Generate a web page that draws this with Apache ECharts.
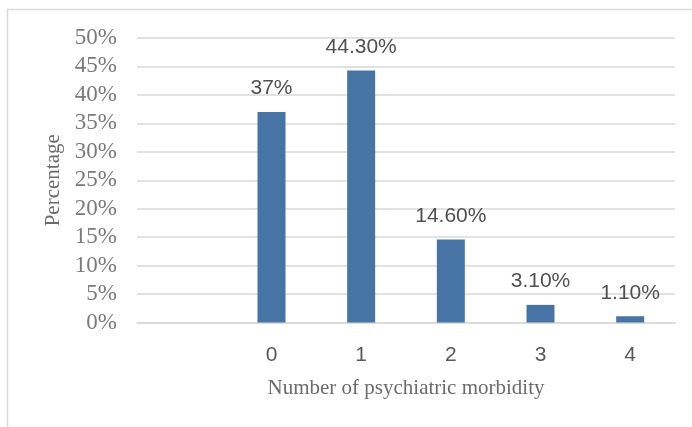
<!DOCTYPE html>
<html>
<head>
<meta charset="utf-8">
<script src="https://cdn.jsdelivr.net/npm/echarts@6/dist/echarts.min.js"></script>
<style>
  html, body { margin: 0; padding: 0; background: #ffffff; }
  #chart { width: 692px; height: 427px; }
</style>
</head>
<body>
<div id="chart"></div>
<script>
// Number of psychiatric morbidities per respondent (share of sample, %)
const categories = ['', '0', '1', '2', '3', '4'];
const percentages = ['-', 37, 44.3, 14.6, 3.1, 1.1];
const yTicks = { min: 0, max: 50, step: 5 };

const serif = '"Liberation Serif", "Times New Roman", serif';
const sans = '"Liberation Sans", Arial, sans-serif';

function formatPct(v) {
  return (Number.isInteger(v) ? String(v) : v.toFixed(2)) + '%';
}

const chart = echarts.init(document.getElementById('chart'), null, { renderer: 'canvas' });

chart.setOption({
  backgroundColor: '#ffffff',
  animation: false,
  graphic: [{
    type: 'rect',
    shape: { x: 7.5, y: 9.5, width: 700, height: 440 },
    style: { fill: 'none', stroke: '#d9d9d9', lineWidth: 1.5 },
    silent: true,
    z: -1
  }],
  grid: { left: 137, right: 17, top: 38, bottom: 104.5, containLabel: false },
  xAxis: {
    type: 'category',
    data: categories,
    name: 'Number of psychiatric morbidity',
    nameLocation: 'middle',
    nameGap: 66,
    nameTextStyle: { fontFamily: serif, fontSize: 21, color: '#6b6b6b', verticalAlign: 'middle' },
    axisLine: { show: true, lineStyle: { color: '#d9d9d9', width: 1.5 } },
    axisTick: { show: false },
    axisLabel: { fontFamily: sans, fontSize: 21, color: '#595959', margin: 22 }
  },
  yAxis: {
    type: 'value',
    min: yTicks.min,
    max: yTicks.max,
    interval: yTicks.step,
    name: 'Percentage',
    nameLocation: 'middle',
    nameGap: 81,
    nameTextStyle: { fontFamily: serif, fontSize: 21, color: '#6b6b6b', verticalAlign: 'middle' },
    axisLine: { show: false },
    axisTick: { show: false },
    splitLine: { lineStyle: { color: '#d9d9d9', width: 1.5 } },
    axisLabel: {
      fontFamily: serif, fontSize: 23, color: '#7a7a7a', margin: 20,
      formatter: v => v + '%'
    }
  },
  series: [{
    type: 'bar',
    data: percentages,
    barWidth: 28,
    itemStyle: { color: '#4675a5' },
    label: {
      show: true,
      position: 'top',
      distance: 13,
      fontFamily: sans,
      fontSize: 21,
      color: '#505050',
      formatter: p => formatPct(p.value)
    }
  }]
});
</script>
</body>
</html>
